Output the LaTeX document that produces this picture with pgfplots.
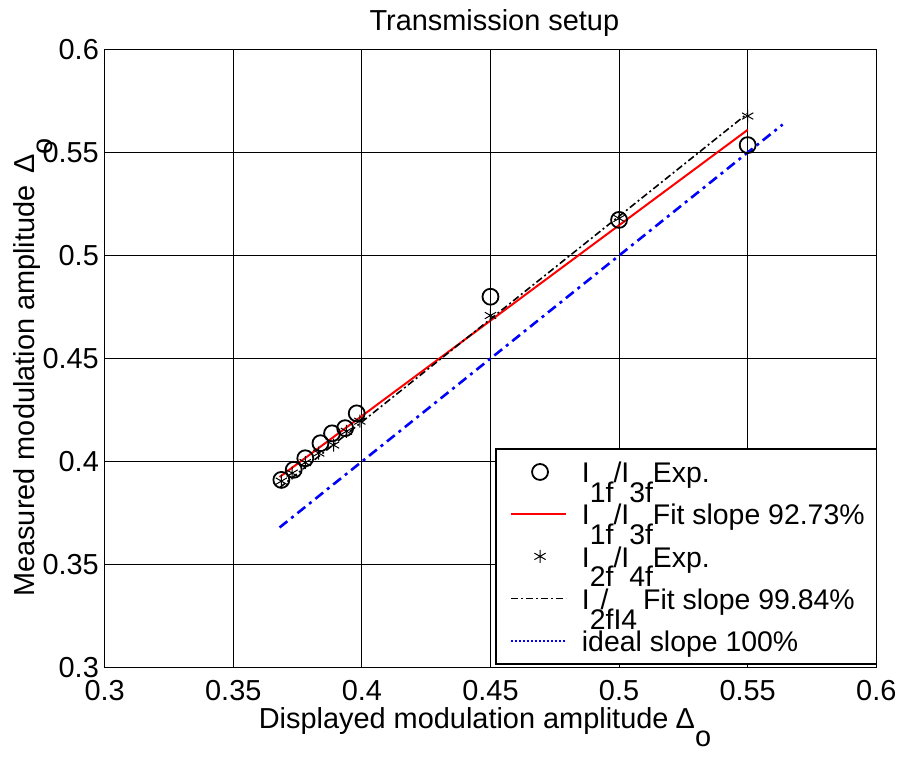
\documentclass[border=0pt]{standalone}
\usepackage{fontspec}
\setmainfont{Liberation Sans}
\usepackage{pgfplots}
\pgfplotsset{compat=1.18}
\newcommand{\sub}[1]{\raisebox{-0.7em}[0pt][0pt]{#1}}
\newcommand{\subl}[1]{\raisebox{-0.62em}{#1}}
\begin{document}
\fontsize{29bp}{34bp}\selectfont
\begin{tikzpicture}
\begin{axis}[
  scale only axis,
  width=774bp, height=620bp,
  xmin=0.3, xmax=0.6, ymin=0.3, ymax=0.6,
  xtick={0.3,0.35,0.4,0.45,0.5,0.55,0.6},
  ytick={0.3,0.35,0.4,0.45,0.5,0.55,0.6},
  xticklabels={0.3,0.35,0.4,0.45,0.5,0.55,0.6},
  yticklabels={0.3,0.35,0.4,0.45,0.5,0.55,0.6},
  xtick pos=both, ytick pos=both,
  tick align=inside,
  major tick length=8bp,
  tick style={black, line width=0.8bp},
  grid=major,
  major grid style={black, line width=0.9bp},
  axis line style={black, line width=1.4bp},
  xticklabel style={yshift=-2.5bp},
  yticklabel style={xshift=4bp},
  title={Transmission setup},
  title style={at={(rel axis cs:0.505,1.021)}, anchor=base},
  xlabel={Displayed modulation amplitude\hspace{0.25em}Δ\subl{o}},
  xlabel style={at={(rel axis cs:0.4929,-0.098)}, anchor=base},
  ylabel={Measured modulation amplitude\hspace{0.4em}Δ\subl{o}},
  ylabel style={at={(rel axis cs:-0.0904,0.4855)}, anchor=base},
  legend cell align=left,
  legend style={at={(rel axis cs:1,0)}, anchor=south east, xshift=1bp, yshift=3bp,
    draw=black, line width=1.4bp, fill=white,
    inner xsep=12bp, inner ysep=2bp,
    font=\fontsize{28.5bp}{34bp}\selectfont,
    nodes={inner sep=0pt, text height=1.1em, text depth=0.36em},
    row sep=0pt},
]
% I1f/I3f experimental
\addplot[only marks, mark=o, mark size=8bp, black, line width=1.8bp,
  legend image code/.code={\path[draw=none] (0bp,0bp) -- (74bp,0bp);
    \draw[black, line width=1.8bp, solid] plot[mark=o, mark size=8bp] coordinates {(32bp,0bp)};}]
coordinates {
(0.3687,0.3911) (0.3735,0.3960) (0.3780,0.4016) (0.3839,0.4089) (0.3884,0.4137)
(0.3935,0.4162) (0.3980,0.4234) (0.45,0.480) (0.5,0.5173) (0.55,0.5536)
};
\addlegendentry{I\sub{1f}/I\sub{3f}Exp.}
% fit 1
\addplot[red, line width=2bp,
  legend image code/.code={\path[draw=none] (0bp,0bp) -- (74bp,0bp);
    \draw[red, line width=2bp, solid] (3bp,0bp) -- (58bp,0bp);}]
coordinates {(0.368,0.3925) (0.55,0.561)};
\addlegendentry{I\sub{1f}/I\sub{3f}Fit slope 92.73\%}
% I2f/I4f experimental
\addplot[only marks, mark=asterisk, mark size=6.5bp, black, line width=1bp,
  legend image code/.code={\path[draw=none] (0bp,0bp) -- (74bp,0bp);
    \draw[black, line width=1bp, solid] plot[mark=asterisk, mark size=6.5bp] coordinates {(32bp,0bp)};}]
coordinates {
(0.3687,0.3905) (0.3729,0.3944) (0.3780,0.3995) (0.3832,0.4041) (0.3890,0.4080)
(0.3940,0.4147) (0.3992,0.4196) (0.45,0.4709) (0.5,0.518) (0.55,0.5677)
};
\addlegendentry{I\sub{2f}/I\sub{4f}Exp.}
% fit 2
\addplot[black, line width=1.6bp, dash pattern=on 7bp off 3bp on 2bp off 3bp,
  legend image code/.code={\path[draw=none] (0bp,0bp) -- (74bp,0bp);
    \draw[black, line width=1.6bp, dash pattern=on 7bp off 3bp on 2bp off 3bp] (3bp,0bp) -- (58bp,0bp);}]
coordinates {(0.368,0.3873) (0.55,0.5690)};
\addlegendentry{I\rlap{\sub{2fI4}}\hspace{0.38em}/\hspace{1.22em}Fit slope 99.84\%}
% ideal
\addplot[blue, line width=2.6bp, dash pattern=on 10bp off 5bp on 3bp off 5bp,
  legend image code/.code={\path[draw=none] (0bp,0bp) -- (74bp,0bp);
    \draw[blue, line width=1.6bp, dash pattern=on 2bp off 2bp] (3bp,0bp) -- (58bp,0bp);}]
coordinates {(0.368,0.368) (0.5636,0.5636)};
\addlegendentry{ideal slope 100\%}
\coordinate (bbl) at (rel axis cs:-0.13566,-0.13387);
\coordinate (btr) at (rel axis cs:1.03488,1.07258);
\end{axis}
\path (bbl) rectangle (btr);
\end{tikzpicture}
\end{document}
